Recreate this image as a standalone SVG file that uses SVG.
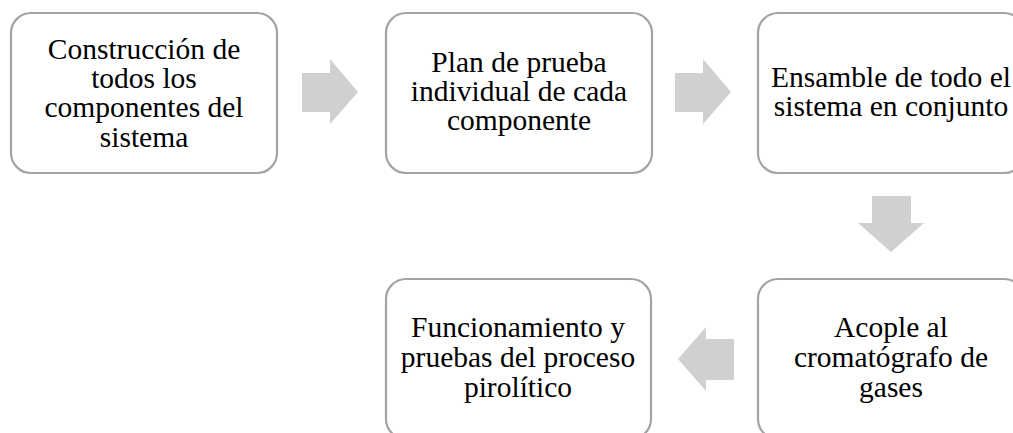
<svg xmlns="http://www.w3.org/2000/svg" width="1013" height="433" viewBox="0 0 1013 433">
<style>
.box{fill:#ffffff;stroke:#a3a3a3;stroke-width:2.2}
.arr{fill:#d0d0d0;stroke:none}
text{font-family:"Liberation Serif","Times New Roman",serif;font-size:29.5px;fill:#000000;text-anchor:middle}
</style>
<rect width="1013" height="433" fill="#ffffff"/>
<g id="connectors">
<path class="arr" d="M302,73 H330 V59 L358,92 L330,124 V112 H302 Z"/>
<path class="arr" d="M675,73 H703 V59 L731,92 L703,124 V112 H675 Z"/>
<path class="arr" d="M872,196 H911 V223 H924 L891,252 L858,223 H872 Z"/>
<path class="arr" d="M734,339 H706 V327 L678,359 L706,391 V380 H734 Z"/>
</g>
<g id="node1">
<rect class="box" x="11" y="13" width="266" height="160" rx="20"/>
<text x="144" y="59">Construcción de</text>
<text x="144" y="88.2">todos los</text>
<text x="144" y="117.4">componentes del</text>
<text x="144" y="146.6">sistema</text>
</g>
<g id="node2">
<rect class="box" x="386" y="13" width="266" height="160" rx="20"/>
<text x="519" y="72">Plan de prueba</text>
<text x="519" y="101">individual de cada</text>
<text x="519" y="130">componente</text>
</g>
<g id="node3">
<rect class="box" x="758" y="13" width="266" height="160" rx="20"/>
<text x="891" y="86.6">Ensamble de todo el</text>
<text x="891" y="115.8">sistema en conjunto</text>
</g>
<g id="node4">
<rect class="box" x="758" y="279" width="266" height="160" rx="20"/>
<text x="891" y="337">Acople al</text>
<text x="891" y="367">cromatógrafo de</text>
<text x="891" y="397">gases</text>
</g>
<g id="node5">
<rect class="box" x="386" y="279" width="265" height="160" rx="20"/>
<text x="518" y="337">Funcionamiento y</text>
<text x="518" y="367">pruebas del proceso</text>
<text x="518" y="397">pirolítico</text>
</g>
</svg>
